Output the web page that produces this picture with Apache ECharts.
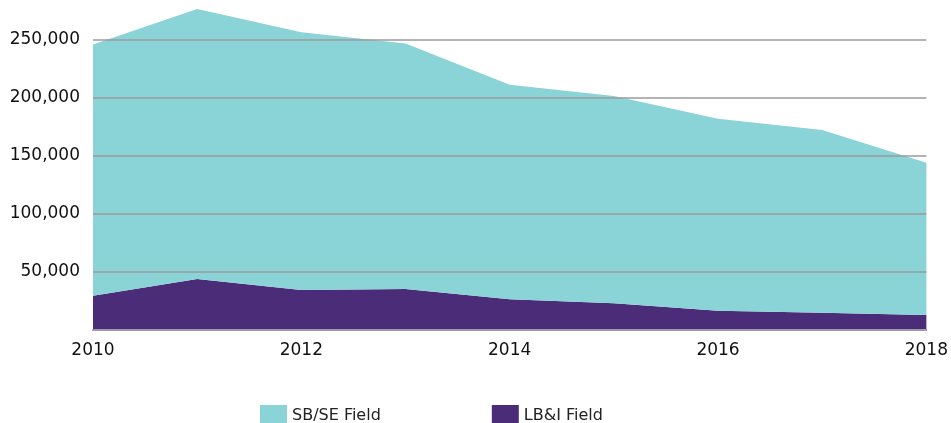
<!DOCTYPE html>
<html>
<head>
<meta charset="utf-8">
<script src="https://cdn.jsdelivr.net/npm/echarts@6/dist/echarts.min.js"></script>
<style>
  html, body { margin: 0; padding: 0; background: #fff; }
  #chart { width: 951px; height: 423px; }
</style>
</head>
<body>
<div id="chart"></div>
<script>
// categories and values
const years = ['2010', '2011', '2012', '2013', '2014', '2015', '2016', '2017', '2018']
const lbiField = [29600, 44000, 34500, 35300, 26500, 23000, 16600, 14900, 12900]
const sbseField = [216400, 232500, 222100, 211500, 184900, 178700, 165300, 157500, 131300]

const myChart = echarts.init(document.getElementById('chart'))
myChart.setOption({
  animation: false,
  textStyle: { fontFamily: 'DejaVu Sans' },
  grid: { left: 93, right: 20, top: 5, bottom: 93 },
  legend: {
    left: 255,
    top: 400,
    itemWidth: 27,
    itemHeight: 22,
    itemGap: 111,
    icon: 'rect',
    textStyle: { fontSize: 16, color: '#222', fontFamily: 'DejaVu Sans' },
    data: ['SB/SE Field', 'LB&I Field']
  },
  xAxis: {
    type: 'category',
    data: years,
    boundaryGap: false,
    z: 5,
    axisLine: { lineStyle: { color: '#9e9aab', width: 2 } },
    axisTick: { show: false },
    axisLabel: { interval: 1, margin: 12, fontSize: 17, color: '#111' }
  },
  yAxis: {
    type: 'value',
    min: 0,
    max: 280000,
    interval: 50000,
    z: 5,
    axisLine: { show: false },
    axisTick: { show: false },
    axisLabel: {
      margin: 13,
      fontSize: 17,
      color: '#111',
      showMinLabel: false,
      showMaxLabel: false,
      formatter: v => v.toLocaleString('en-US')
    },
    splitLine: {
      showMinLine: false,
      showMaxLine: false,
      lineStyle: { color: '#9a9a9a', width: 1.5 }
    }
  },
  series: [
    {
      name: 'LB&I Field',
      type: 'line',
      stack: 'total',
      data: lbiField,
      symbol: 'none',
      lineStyle: { width: 0 },
      itemStyle: { color: '#4b2c78' },
      areaStyle: { color: '#4b2c78', opacity: 1 }
    },
    {
      name: 'SB/SE Field',
      type: 'line',
      stack: 'total',
      data: sbseField,
      symbol: 'none',
      lineStyle: { width: 0 },
      itemStyle: { color: '#8ad3d7' },
      areaStyle: { color: '#8ad3d7', opacity: 1 }
    }
  ]
})
</script>
</body>
</html>
